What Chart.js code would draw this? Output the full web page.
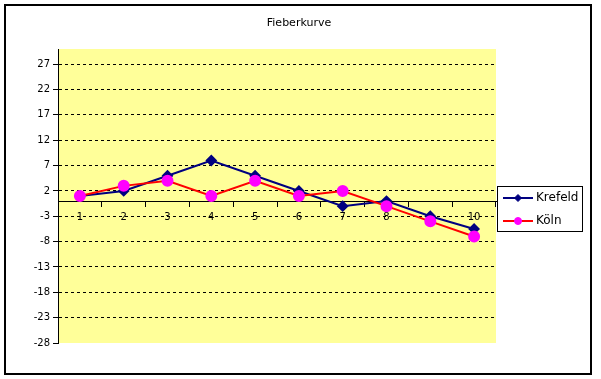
<!DOCTYPE html>
<html>
<head>
<meta charset="utf-8">
<script src="https://cdn.jsdelivr.net/npm/chart.js@4/dist/chart.umd.min.js"></script>
<style>
  body { margin: 0; background: #fff; }
  canvas { display: block; }
</style>
</head>
<body>
<canvas id="myChart" width="601" height="379"></canvas>
<script>
const labels = ['1', '2', '3', '4', '5', '6', '7', '8', '9', '10'];
const krefeld = [1, 2, 5, 8, 5, 2, -1, 0, -3, -5.5];
const koeln = [1, 3, 4, 1, 4, 1, 2, -1, -4, -7];
const yTicks = [-28, -23, -18, -13, -8, -3, 2, 7, 12, 17, 22, 27];

const FONT = '"DejaVu Sans", Verdana, sans-serif';

// yellow plot area, outer frame, title and the boxed legend
const frame = {
  id: 'frame',
  beforeDraw(chart) {
    const c = chart.ctx, a = chart.chartArea;
    c.save();
    c.fillStyle = '#FFFF99';
    c.fillRect(a.left, a.top, a.right - a.left, a.bottom - a.top);
    c.restore();
  },
  afterDraw(chart) {
    const c = chart.ctx;
    c.save();
    c.strokeStyle = '#000';
    c.lineWidth = 2;
    c.strokeRect(5, 5, 586, 369);

    c.fillStyle = '#000';
    c.font = '11px ' + FONT;
    c.textAlign = 'center';
    c.textBaseline = 'middle';
    c.fillText('Fieberkurve', 299, 23);

    // legend
    c.lineWidth = 1;
    c.fillStyle = '#fff';
    c.fillRect(497.5, 186.5, 85, 45);
    c.strokeRect(497.5, 186.5, 85, 45);
    chart.data.datasets.forEach((ds, i) => {
      const y = 198 + i * 23;
      c.strokeStyle = ds.borderColor;
      c.lineWidth = 2;
      c.beginPath();
      c.moveTo(503, y);
      c.lineTo(533, y);
      c.stroke();
      c.fillStyle = ds.pointBackgroundColor;
      c.strokeStyle = ds.pointBorderColor;
      c.lineWidth = 1;
      Chart.helpers.drawPoint(c, { pointStyle: ds.pointStyle, radius: 3.5, rotation: 0, borderWidth: 1 }, 518, y);
      c.fillStyle = '#000';
      c.font = '12px ' + FONT;
      c.textAlign = 'left';
      c.fillText(ds.label, 536, y);
    });
    c.restore();
  }
};

new Chart(document.getElementById('myChart'), {
  type: 'line',
  data: {
    labels: labels,
    datasets: [{
      label: 'Krefeld',
      data: krefeld,
      borderColor: '#000080',
      backgroundColor: '#000080',
      pointBackgroundColor: '#000080',
      pointBorderColor: '#000080',
      pointStyle: 'rectRot',
      pointRadius: 4.5,
      borderWidth: 2,
      order: 1
    }, {
      label: 'Köln',
      data: koeln,
      borderColor: '#FF0000',
      backgroundColor: '#FF00FF',
      pointBackgroundColor: '#FF00FF',
      pointBorderColor: '#FF00FF',
      pointStyle: 'circle',
      pointRadius: 5,
      borderWidth: 2,
      order: 0
    }]
  },
  options: {
    responsive: false,
    animation: false,
    layout: { padding: { top: 49, right: 105, bottom: 36, left: 5 } },
    plugins: {
      legend: { display: false },
      title: { display: false },
      tooltip: { enabled: false }
    },
    scales: {
      x: {
        position: { y: 0 },
        offset: true,
        grid: { drawOnChartArea: false, drawTicks: true, tickLength: 5, offset: true, tickColor: '#000' },
        border: { color: '#000', width: 1 },
        ticks: { color: '#000', font: { family: FONT, size: 10 }, padding: 5, maxRotation: 0 }
      },
      y: {
        min: -28,
        max: 30,
        afterBuildTicks: (scale) => { scale.ticks = yTicks.map(v => ({ value: v })); },
        afterFit: (scale) => { scale.width = 53; },
        grid: {
          color: (ctx) => ctx.tick && ctx.tick.value === -28 ? 'rgba(0,0,0,0)' : '#000',
          tickColor: '#000',
          tickLength: 5,
          tickBorderDash: []
        },
        border: { color: '#000', width: 1, dash: [3, 3] },
        ticks: { color: '#000', font: { family: FONT, size: 10 }, padding: 3 }
      }
    }
  },
  plugins: [frame]
});
</script>
</body>
</html>
